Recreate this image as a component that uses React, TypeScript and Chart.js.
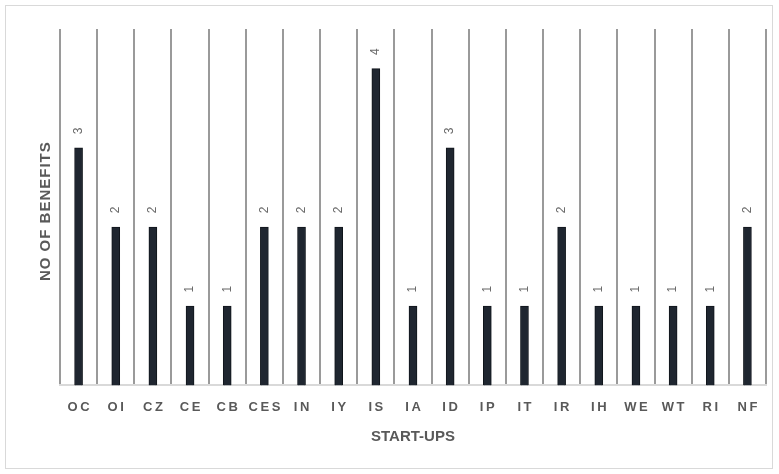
import React, { useEffect, useRef } from "react";
import { Chart, registerables } from "chart.js";

Chart.register(...registerables);

const categories = ["OC", "OI", "CZ", "CE", "CB", "CES", "IN", "IY", "IS", "IA", "ID", "IP", "IT", "IR", "IH", "WE", "WT", "RI", "NF"];
const benefits = [3, 2, 2, 1, 1, 2, 2, 2, 4, 1, 3, 1, 1, 2, 1, 1, 1, 1, 2];
const yAxisTitle = "NO OF BENEFITS";
const xAxisTitle = "START-UPS";

const TEXT = "#595959";
const FONT = "'Liberation Sans', Arial, sans-serif";

const decor = {
  id: "decor",
  afterDraw(chart: any) {
    const { ctx, chartArea } = chart;
    ctx.save();
    // outer border
    ctx.strokeStyle = "#d9d9d9";
    ctx.lineWidth = 1;
    ctx.strokeRect(5.5, 5.5, 767, 463);
    // data labels
    const meta = chart.getDatasetMeta(0);
    ctx.fillStyle = "#6a6a6a";
    ctx.font = `12px ${FONT}`;
    ctx.textAlign = "center";
    ctx.textBaseline = "middle";
    meta.data.forEach((bar: any, i: number) => {
      ctx.save();
      ctx.translate(bar.x, bar.y - 17);
      ctx.rotate(-Math.PI / 2);
      ctx.fillText(String(benefits[i]), 0, 0);
      ctx.restore();
    });
    // axis titles
    ctx.font = `bold 15px ${FONT}`;
    ctx.fillStyle = TEXT;
    ctx.fillText(xAxisTitle, (chartArea.left + chartArea.right) / 2, 437);
    ctx.save();
    ctx.translate(46, (chartArea.top + chartArea.bottom) / 2 + 4);
    ctx.rotate(-Math.PI / 2);
    (ctx as any).letterSpacing = "1px";
    ctx.fillText(yAxisTitle, 0, 0);
    ctx.restore();
    ctx.restore();
  },
};

export default function App() {
  const ref = useRef<HTMLCanvasElement>(null);
  useEffect(() => {
    if (!ref.current) return;
    const chart = new Chart(ref.current, {
      type: "bar",
      data: {
        labels: categories,
        datasets: [
          {
            data: benefits,
            backgroundColor: "#1f2630",
            borderColor: "#10151b",
            borderWidth: 1,
            barThickness: 8,
          },
        ],
      },
      options: {
        animation: false,
        responsive: true,
        maintainAspectRatio: false,
        layout: { padding: { left: 60, right: 13, top: 29, bottom: 45 } },
        plugins: { legend: { display: false }, tooltip: { enabled: false } },
        scales: {
          x: {
            grid: { display: true, offset: true, color: "#9a9a9a", lineWidth: 2, drawTicks: false },
            border: { display: true, color: "#d9d9d9", width: 2 },
            ticks: {
              color: TEXT,
              font: { family: FONT, size: 13, weight: "bold" },
              padding: 14,
              autoSkip: false,
              maxRotation: 0,
              callback: (_v: any, i: number) => categories[i].split("").join("\u2009"),
            },
          },
          y: { display: false, min: 0, max: 4.5 },
        },
      },
      plugins: [decor],
    });
    return () => chart.destroy();
  }, []);
  return (
    <div style={{ position: "fixed", left: 0, top: 0, width: 779, height: 474, background: "#fff" }}>
      <canvas ref={ref} />
    </div>
  );
}
